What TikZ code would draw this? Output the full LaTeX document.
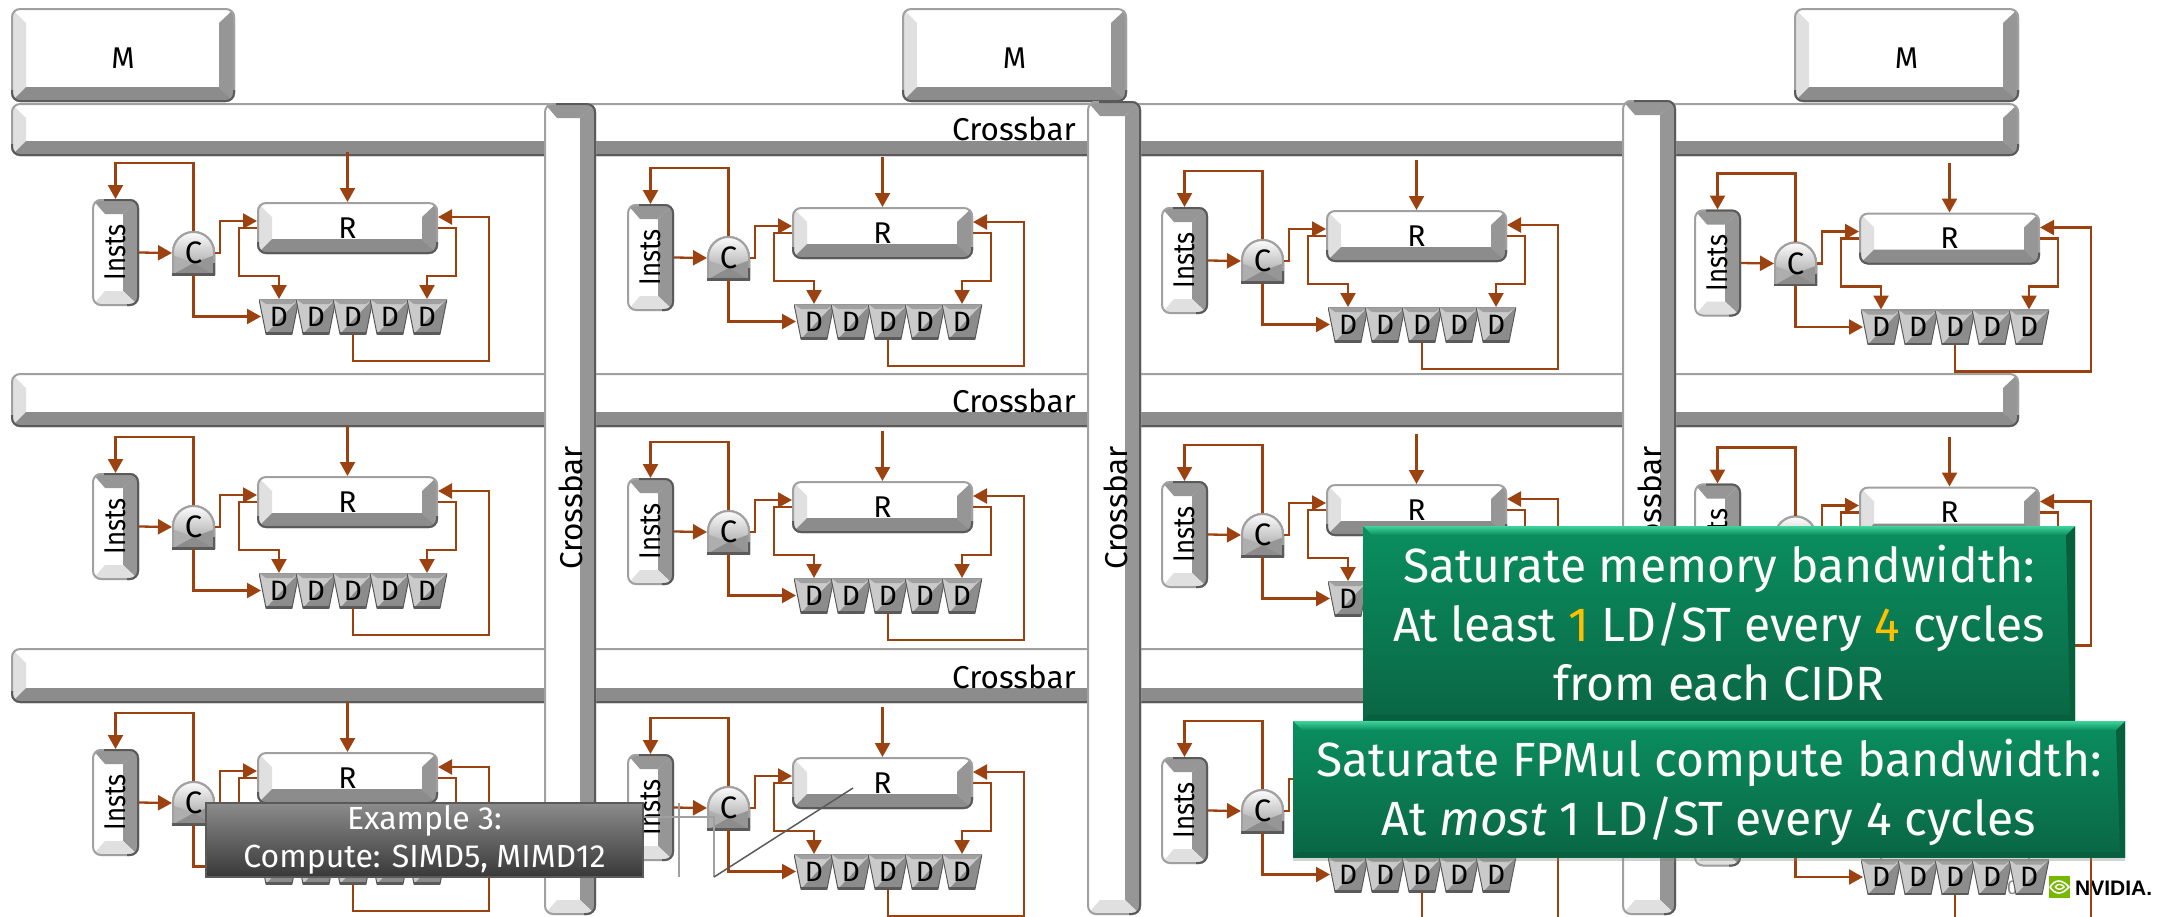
\documentclass[tikz,border=0pt]{standalone}
\usepackage{fontspec}
\setmainfont{Fira Sans}
\newfontfamily\logofont{Liberation Sans}
\usetikzlibrary{arrows.meta,shadows}
\definecolor{flowline}{HTML}{9C4210}
\definecolor{sidelight}{HTML}{E0E0E0}
\definecolor{sidedark}{HTML}{969696}
\definecolor{sidebase}{HTML}{8C8C8C}
\definecolor{edgelight}{HTML}{A0A0A0}
\definecolor{edgedark}{HTML}{5A5A5A}
\definecolor{numgold}{HTML}{FFC000}
\definecolor{calloutup}{HTML}{0A8F60}
\definecolor{calloutlow}{HTML}{0A6644}
\definecolor{calloutlight}{HTML}{3ED49A}
\definecolor{calloutside}{HTML}{075F3E}
\definecolor{logogreen}{HTML}{76B900}
\newcommand{\ppb}{path picture bounding box}
\tikzset{
	keyedge/.style={line width=4pt, rounded corners=9pt},
	keybase/.style={rectangle, fill=white, rounded corners=9pt, inner sep=0pt, outer sep=0pt, font=\fontsize{30}{36}\selectfont},
	% light left side, dark bottom
	keycap/.style={keybase, path picture={
		\clip[rounded corners=9pt] (\ppb.north west) rectangle (\ppb.south east);
		\begin{scope}[sharp corners]
		\fill[sidelight] (\ppb.north west) -- (\ppb.south west) -- ([shift={(15pt,15pt)}]\ppb.south west) -- ([shift={(15pt,-15pt)}]\ppb.north west) -- cycle;
		\fill[sidedark] (\ppb.north east) -- (\ppb.south east) -- ([shift={(-16pt,15pt)}]\ppb.south east) -- ([shift={(-16pt,-15pt)}]\ppb.north east) -- cycle;
		\fill[sidebase] (\ppb.south west) -- (\ppb.south east) -- ([shift={(-16pt,15pt)}]\ppb.south east) -- ([shift={(15pt,15pt)}]\ppb.south west) -- cycle;
		\end{scope}
		\draw[keyedge, edgelight] (\ppb.north west) rectangle (\ppb.south east);
		\draw[keyedge, edgedark] ([yshift=12pt]\ppb.south west) -- (\ppb.south west) -- (\ppb.south east) -- ([yshift=12pt]\ppb.south east);
	}},
	% same key turned on its side
	keyrot/.style={keybase, path picture={
		\clip[rounded corners=9pt] (\ppb.north west) rectangle (\ppb.south east);
		\begin{scope}[sharp corners]
		\fill[sidedark] (\ppb.north west) -- (\ppb.north east) -- ([shift={(-16pt,-15pt)}]\ppb.north east) -- ([shift={(13pt,-15pt)}]\ppb.north west) -- cycle;
		\fill[sidedark] (\ppb.north east) -- (\ppb.south east) -- ([shift={(-16pt,15pt)}]\ppb.south east) -- ([shift={(-16pt,-15pt)}]\ppb.north east) -- cycle;
		\fill[sidelight] (\ppb.south west) -- (\ppb.south east) -- ([shift={(-16pt,15pt)}]\ppb.south east) -- ([shift={(13pt,15pt)}]\ppb.south west) -- cycle;
		\end{scope}
		\draw[keyedge, edgelight] (\ppb.north west) rectangle (\ppb.south east);
		\draw[keyedge, edgedark] ([xshift=12pt]\ppb.north west) -- (\ppb.north east) -- (\ppb.south east) -- ([xshift=-12pt]\ppb.south east);
	}},
	ctrlbox/.style={rectangle, inner sep=0pt, outer sep=0pt, minimum width=43pt, minimum height=44pt, font=\fontsize{31}{36}\selectfont, path picture={
		\fill[top color=white, bottom color=sidedark] (\ppb.south west) -- ([yshift=22.5pt]\ppb.south west) arc[start angle=180, end angle=0, radius=21.5pt] -- (\ppb.south east) -- cycle;
		\fill[sidebase!70] (\ppb.south west) -- ([yshift=20pt]\ppb.south west) -- ([yshift=12pt]\ppb.south) -- cycle;
		\fill[sidedark] (\ppb.south east) -- ([yshift=20pt]\ppb.south east) -- ([yshift=12pt]\ppb.south) -- cycle;
		\fill[sidebase] (\ppb.south west) -- (\ppb.south east) -- ([yshift=12pt]\ppb.south) -- cycle;
		\draw[edgelight, line width=2pt] ([xshift=1pt]\ppb.south west) -- ([shift={(1pt,22.5pt)}]\ppb.south west) arc[start angle=180, end angle=0, radius=20.5pt] -- ([xshift=-1pt]\ppb.south east);
		\draw[edgedark, line width=4pt] (\ppb.south west) -- (\ppb.south east);
		\draw[edgedark, line width=2pt] ([shift={(-1pt,12pt)}]\ppb.south east) -- ([xshift=-1pt]\ppb.south east);
	}},
	dbox/.style={rectangle, inner sep=0pt, outer sep=0pt, minimum width=40pt, minimum height=35pt, font=\fontsize{28}{34}\selectfont, path picture={
		\fill[sidelight!90!black] (\ppb.north west) -- (\ppb.north east) -- ([xshift=-7pt]\ppb.south east) -- ([xshift=7pt]\ppb.south west) -- cycle;
		\fill[sidebase] (\ppb.north east) -- ([xshift=-7pt]\ppb.south east) -- ([xshift=7pt]\ppb.south west) -- cycle;
		\fill[edgelight] (\ppb.north west) -- (\ppb.north east) -- ([shift={(-7pt,-5pt)}]\ppb.north east) -- ([shift={(7pt,-5pt)}]\ppb.north west) -- cycle;
		\draw[edgedark, line width=1pt] (\ppb.north west) -- ([xshift=7pt]\ppb.south west) -- ([xshift=-7pt]\ppb.south east) -- (\ppb.north east);
		\draw[edgedark, line width=4pt] ([xshift=7pt]\ppb.south west) -- ([xshift=-7pt]\ppb.south east);
		\draw[sidedark, line width=2pt] (\ppb.north west) -- (\ppb.north east);
	}},
	flow/.style={flowline, line width=2.3pt, line join=miter, -{Triangle[width=15pt,length=14pt]}},
	barlabel/.style={anchor=base, inner sep=0pt, font=\fontsize{31.5}{36}\selectfont},
	callout/.style={rectangle, top color=calloutup, bottom color=calloutlow, text=white, inner sep=0pt, outer sep=0pt, align=center, font=\fontsize{48}{59}\selectfont, drop shadow={shadow xshift=0pt, shadow yshift=-4pt, opacity=0.35}, path picture={
		\fill[calloutside] (\ppb.north east) -- (\ppb.south east) -- ([shift={(-5pt,5pt)}]\ppb.south east) -- ([shift={(-9pt,-9pt)}]\ppb.north east) -- cycle;
		\fill[calloutside] (\ppb.south west) -- (\ppb.south east) -- ([shift={(-5pt,5pt)}]\ppb.south east) -- ([shift={(5pt,5pt)}]\ppb.south west) -- cycle;
		\shade[top color=calloutlight, bottom color=calloutup] (\ppb.north west) -- (\ppb.north east) -- ([shift={(-9pt,-9pt)}]\ppb.north east) -- ([shift={(9pt,-9pt)}]\ppb.north west) -- cycle;
	}},
	exbox/.style={rectangle, draw=edgedark, line width=2pt, top color=sidebase, bottom color=black!78, text=white, inner sep=0pt, align=center, font=\fontsize{32}{38}\selectfont},
	leader/.style={edgelight, line width=1.5pt},
}

\begin{document}
\begin{tikzpicture}[x=1pt, y=-1pt]
	\clip (0,0) rectangle (2159,916);
	% crossbars across, memories on top
	\foreach \n/\y/\h in {1/129.5/53, 2/400/54, 3/675.5/55} {\node[keycap, minimum width=2008pt, minimum height=\h pt] (H\n) at (1015,\y) {};}
	\node[keycap, minimum width=224pt, minimum height=94pt, text height=27pt] (M1) at (123,55) {M};
	\node[keycap, minimum width=225pt, minimum height=94pt, text height=27pt] (M2) at (1014.5,55) {M};
	\node[keycap, minimum width=225pt, minimum height=94pt, text height=27pt] (M3) at (1906.5,55) {M};
	\foreach \n/\y in {1/140, 2/412, 3/688} {\node[barlabel] (HL\n) at (1014,\y) {Crossbar};}
	% logo and page number sit behind the last cluster
	\node[fill=logogreen, minimum width=21pt, minimum height=22pt, inner sep=0pt] (logo) at (2059.5,887) {};
	\draw[white, line width=1.6pt] (2050,887) .. controls (2055,879) and (2062,879) .. (2069,887) .. controls (2062,895) and (2055,895) .. (2050,887);
	\draw[white, line width=1.4pt] (2055,887) .. controls (2058,883) and (2062,884) .. (2064,887) .. controls (2061,890) and (2058,890) .. (2055,887);
	\node[anchor=west, inner sep=0pt, font=\fontsize{21}{24}\selectfont\logofont\bfseries] (brand) at (2075,888) {NVIDIA.};
	\node[text=sidebase, inner sep=0pt, font=\fontsize{20}{24}\selectfont] (pagenum) at (2008,888) {10};
	% one cluster, repeated on the grid
	\foreach \c/\ox/\oy in {1/0/0, 2/535/5, 3/1069/8, 4/1602/10.5} {
		\foreach \r/\ry in {1/0, 2/274, 3/550} {
			\begin{scope}[shift={(\ox,\ry+\oy)}]
				\def\m{\c\r}
				\node[keyrot, minimum width=47pt, minimum height=107pt] (I\m) at (115.5,252.5) {\rotatebox{90}{\scalebox{.86}[1]{Insts}}};
				\node[ctrlbox] (C\m) at (193.5,253) {C};
				\node[keycap, minimum width=181pt, minimum height=52pt] (R\m) at (347.5,228) {R};
				\foreach \i/\x in {1/279, 2/316, 3/353, 4/390, 5/427} {\node[dbox] (D\i\m) at (\x,316.5) {D};}
				\coordinate (X\m) at ([yshift=50pt]R\m.north);
				\draw[flow] (X\m) -- (R\m.north);
				\draw[flow] (C\m.north) -- ++(0,-68) -| (I\m.north);
				\draw[flow] (I\m.east) -- (C\m.west);
				\draw[flow] (C\m.east) -- ++(5,0) |- ([yshift=7pt]R\m.west);
				\draw[flow] (C\m.south) |- ([xshift=2pt]D1\m.west);
				\draw[flow] (R\m.west) -- ++(-18,0) -- ++(0,48) -| (D1\m.north);
				\draw[flow] (R\m.east) -- ++(18,0) -- ++(0,48) -| (D5\m.north);
				\draw[flow] (D3\m.south) -- ++(0,27) -- ++(136,0) |- ([yshift=11pt]R\m.east);
			\end{scope}
		}
	}
	% crossbars down, over the ones across
	\node[keyrot, minimum width=52pt, minimum height=812pt] (V1) at (570,509) {};
	\node[keyrot, minimum width=54pt, minimum height=814pt] (V2) at (1114,508) {};
	\node[keyrot, minimum width=54pt, minimum height=815pt] (V3) at (1649,507.5) {};
	\foreach \n/\x in {1/582, 2/1127, 3/1661} {\node[barlabel, rotate=90] (VL\n) at (\x,508) {Crossbar};}
	% overlays
	\node[callout, minimum width=712pt, minimum height=194pt] (B1) at (1719,623) {Saturate memory bandwidth:\\At least \textcolor{numgold}{1} LD/ST every \textcolor{numgold}{4} cycles\\from each CIDR};
	\node[callout, minimum width=832pt, minimum height=136pt] (B2) at (1709,789) {\rule{0pt}{44pt}Saturate FPMul compute bandwidth:\\At \textit{most} 1 LD/ST every 4 cycles};
	\node[exbox, minimum width=437pt, minimum height=74pt] (E) at (424.5,840) {Example 3:\\Compute: SIMD5, MIMD12};
	\coordinate (La) at (679,803);
	\coordinate (Lb) at (679,877);
	\coordinate (Lc) at (E.east |- 0,817);
	\coordinate (Ld) at (714,817);
	\coordinate (Le) at (714,877);
	\coordinate (Lf) at (853,788);
	\draw[leader] (La) -- (Lb);
	\draw[leader] (Lc) -- (Ld) -- (Le);
	\draw[leader, edgedark] (Le) -- (Lf);
\end{tikzpicture}
\end{document}
